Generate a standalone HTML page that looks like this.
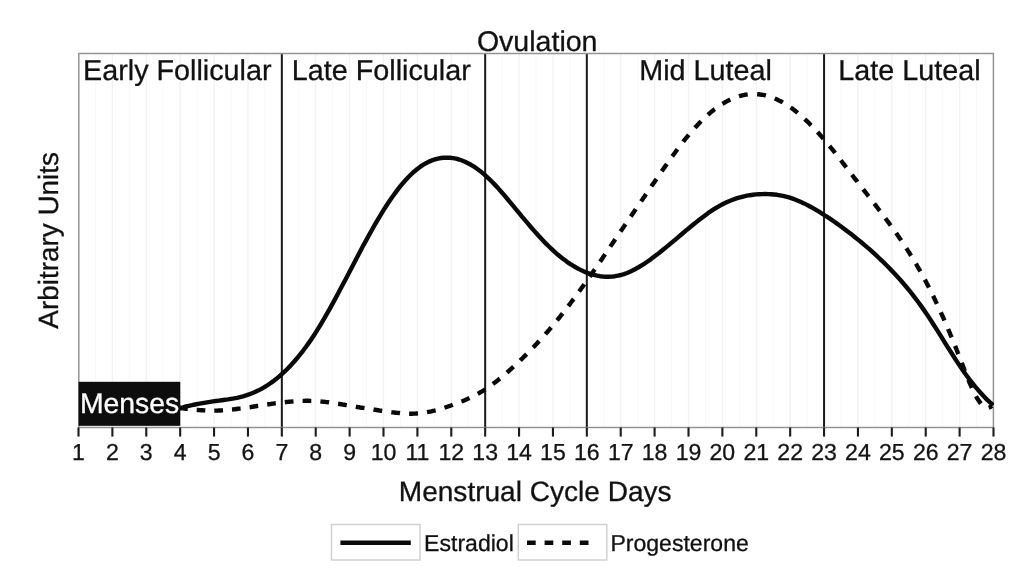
<!DOCTYPE html>
<html lang="en">
<head>
<meta charset="utf-8">
<title>Menstrual Cycle Hormones</title>
<style>
html,body{margin:0;padding:0;background:#fff;}
body{width:1024px;height:583px;overflow:hidden;}
svg{display:block;}
text{font-family:"Liberation Sans",sans-serif;fill:#111;stroke:#111;stroke-width:0.3px;text-rendering:geometricPrecision;}
.ph{font-size:28.75px;}
.tk text{font-size:23.1px;fill:#151515;}
.lg{font-size:23.05px;}
</style>
</head>
<body>
<svg width="1024" height="583" viewBox="0 0 1024 583">
<rect x="0" y="0" width="1024" height="583" fill="#fff"/>
<g>
<line x1="95.44" y1="53.5" x2="95.44" y2="427.5" stroke="#f8f8f8" stroke-width="1"/>
<line x1="112.39" y1="53.5" x2="112.39" y2="427.5" stroke="#f2f2f2" stroke-width="1.4"/>
<line x1="129.33" y1="53.5" x2="129.33" y2="427.5" stroke="#f8f8f8" stroke-width="1"/>
<line x1="146.28" y1="53.5" x2="146.28" y2="427.5" stroke="#f2f2f2" stroke-width="1.4"/>
<line x1="163.22" y1="53.5" x2="163.22" y2="427.5" stroke="#f8f8f8" stroke-width="1"/>
<line x1="180.17" y1="53.5" x2="180.17" y2="427.5" stroke="#f2f2f2" stroke-width="1.4"/>
<line x1="197.11" y1="53.5" x2="197.11" y2="427.5" stroke="#f8f8f8" stroke-width="1"/>
<line x1="214.06" y1="53.5" x2="214.06" y2="427.5" stroke="#f2f2f2" stroke-width="1.4"/>
<line x1="231.00" y1="53.5" x2="231.00" y2="427.5" stroke="#f8f8f8" stroke-width="1"/>
<line x1="247.94" y1="53.5" x2="247.94" y2="427.5" stroke="#f2f2f2" stroke-width="1.4"/>
<line x1="264.89" y1="53.5" x2="264.89" y2="427.5" stroke="#f8f8f8" stroke-width="1"/>
<line x1="281.83" y1="53.5" x2="281.83" y2="427.5" stroke="#f2f2f2" stroke-width="1.4"/>
<line x1="298.78" y1="53.5" x2="298.78" y2="427.5" stroke="#f8f8f8" stroke-width="1"/>
<line x1="315.72" y1="53.5" x2="315.72" y2="427.5" stroke="#f2f2f2" stroke-width="1.4"/>
<line x1="332.67" y1="53.5" x2="332.67" y2="427.5" stroke="#f8f8f8" stroke-width="1"/>
<line x1="349.61" y1="53.5" x2="349.61" y2="427.5" stroke="#f2f2f2" stroke-width="1.4"/>
<line x1="366.56" y1="53.5" x2="366.56" y2="427.5" stroke="#f8f8f8" stroke-width="1"/>
<line x1="383.50" y1="53.5" x2="383.50" y2="427.5" stroke="#f2f2f2" stroke-width="1.4"/>
<line x1="400.44" y1="53.5" x2="400.44" y2="427.5" stroke="#f8f8f8" stroke-width="1"/>
<line x1="417.39" y1="53.5" x2="417.39" y2="427.5" stroke="#f2f2f2" stroke-width="1.4"/>
<line x1="434.33" y1="53.5" x2="434.33" y2="427.5" stroke="#f8f8f8" stroke-width="1"/>
<line x1="451.28" y1="53.5" x2="451.28" y2="427.5" stroke="#f2f2f2" stroke-width="1.4"/>
<line x1="468.22" y1="53.5" x2="468.22" y2="427.5" stroke="#f8f8f8" stroke-width="1"/>
<line x1="485.17" y1="53.5" x2="485.17" y2="427.5" stroke="#f2f2f2" stroke-width="1.4"/>
<line x1="502.11" y1="53.5" x2="502.11" y2="427.5" stroke="#f8f8f8" stroke-width="1"/>
<line x1="519.06" y1="53.5" x2="519.06" y2="427.5" stroke="#f2f2f2" stroke-width="1.4"/>
<line x1="536.00" y1="53.5" x2="536.00" y2="427.5" stroke="#f8f8f8" stroke-width="1"/>
<line x1="552.94" y1="53.5" x2="552.94" y2="427.5" stroke="#f2f2f2" stroke-width="1.4"/>
<line x1="569.89" y1="53.5" x2="569.89" y2="427.5" stroke="#f8f8f8" stroke-width="1"/>
<line x1="586.83" y1="53.5" x2="586.83" y2="427.5" stroke="#f2f2f2" stroke-width="1.4"/>
<line x1="603.78" y1="53.5" x2="603.78" y2="427.5" stroke="#f8f8f8" stroke-width="1"/>
<line x1="620.72" y1="53.5" x2="620.72" y2="427.5" stroke="#f2f2f2" stroke-width="1.4"/>
<line x1="637.67" y1="53.5" x2="637.67" y2="427.5" stroke="#f8f8f8" stroke-width="1"/>
<line x1="654.61" y1="53.5" x2="654.61" y2="427.5" stroke="#f2f2f2" stroke-width="1.4"/>
<line x1="671.56" y1="53.5" x2="671.56" y2="427.5" stroke="#f8f8f8" stroke-width="1"/>
<line x1="688.50" y1="53.5" x2="688.50" y2="427.5" stroke="#f2f2f2" stroke-width="1.4"/>
<line x1="705.44" y1="53.5" x2="705.44" y2="427.5" stroke="#f8f8f8" stroke-width="1"/>
<line x1="722.39" y1="53.5" x2="722.39" y2="427.5" stroke="#f2f2f2" stroke-width="1.4"/>
<line x1="739.33" y1="53.5" x2="739.33" y2="427.5" stroke="#f8f8f8" stroke-width="1"/>
<line x1="756.28" y1="53.5" x2="756.28" y2="427.5" stroke="#f2f2f2" stroke-width="1.4"/>
<line x1="773.22" y1="53.5" x2="773.22" y2="427.5" stroke="#f8f8f8" stroke-width="1"/>
<line x1="790.17" y1="53.5" x2="790.17" y2="427.5" stroke="#f2f2f2" stroke-width="1.4"/>
<line x1="807.11" y1="53.5" x2="807.11" y2="427.5" stroke="#f8f8f8" stroke-width="1"/>
<line x1="824.06" y1="53.5" x2="824.06" y2="427.5" stroke="#f2f2f2" stroke-width="1.4"/>
<line x1="841.00" y1="53.5" x2="841.00" y2="427.5" stroke="#f8f8f8" stroke-width="1"/>
<line x1="857.94" y1="53.5" x2="857.94" y2="427.5" stroke="#f2f2f2" stroke-width="1.4"/>
<line x1="874.89" y1="53.5" x2="874.89" y2="427.5" stroke="#f8f8f8" stroke-width="1"/>
<line x1="891.83" y1="53.5" x2="891.83" y2="427.5" stroke="#f2f2f2" stroke-width="1.4"/>
<line x1="908.78" y1="53.5" x2="908.78" y2="427.5" stroke="#f8f8f8" stroke-width="1"/>
<line x1="925.72" y1="53.5" x2="925.72" y2="427.5" stroke="#f2f2f2" stroke-width="1.4"/>
<line x1="942.67" y1="53.5" x2="942.67" y2="427.5" stroke="#f8f8f8" stroke-width="1"/>
<line x1="959.61" y1="53.5" x2="959.61" y2="427.5" stroke="#f2f2f2" stroke-width="1.4"/>
<line x1="976.56" y1="53.5" x2="976.56" y2="427.5" stroke="#f8f8f8" stroke-width="1"/>
</g>
<g>
<line x1="281.83" y1="53.5" x2="281.83" y2="427.5" stroke="#1a1a1a" stroke-width="2"/>
<line x1="485.17" y1="53.5" x2="485.17" y2="427.5" stroke="#1a1a1a" stroke-width="2"/>
<line x1="586.83" y1="53.5" x2="586.83" y2="427.5" stroke="#1a1a1a" stroke-width="2"/>
<line x1="824.06" y1="53.5" x2="824.06" y2="427.5" stroke="#1a1a1a" stroke-width="2"/>
</g>
<rect x="78.8" y="53.5" width="914.6" height="374.0" fill="none" stroke="#949494" stroke-width="1.5"/>
<rect x="78.6" y="381.8" width="101.67" height="44.05" fill="#0d0d0d"/>
<clipPath id="panel"><rect x="78.5" y="53.5" width="915.5" height="374.0"/></clipPath>
<g clip-path="url(#panel)" fill="none" stroke="#0a0a0a" stroke-width="4.4" stroke-linejoin="round">
<path d="M180.0,408.0 L181.5,408.2 L183.0,408.4 L184.5,408.6 L186.0,408.7 L187.4,408.9 L187.7,408.9 M196.7,409.9 L198.2,410.0 L199.6,410.1 L201.1,410.2 L202.6,410.3 L204.1,410.4 L205.3,410.5 M214.3,410.6 L215.8,410.6 L217.3,410.6 L218.8,410.5 L220.3,410.5 L221.8,410.4 L223.0,410.3 M232.0,409.5 L233.5,409.4 L235.0,409.2 L236.5,409.0 L238.0,408.8 L239.4,408.6 L240.6,408.5 M249.6,407.2 L251.1,407.0 L252.6,406.7 L254.0,406.5 L255.5,406.3 L257.0,406.0 L258.2,405.9 M267.2,404.5 L268.6,404.3 L270.1,404.1 L271.6,403.8 L273.1,403.6 L274.6,403.4 L275.8,403.3 M284.8,402.2 L286.3,402.0 L287.8,401.9 L289.3,401.7 L290.8,401.6 L292.3,401.5 L293.5,401.4 M302.6,400.9 L304.1,400.9 L305.6,400.8 L307.1,400.8 L308.6,400.8 L310.1,400.9 L311.3,400.9 M320.4,401.4 L321.9,401.6 L323.4,401.7 L324.9,401.9 L326.4,402.1 L327.9,402.2 L329.1,402.4 M338.1,403.8 L339.6,404.0 L341.1,404.2 L342.6,404.5 L344.1,404.7 L345.5,405.0 L346.8,405.2 M355.8,406.7 L357.3,407.0 L358.8,407.2 L360.2,407.5 L361.7,407.7 L363.2,407.9 L364.5,408.1 M373.5,409.5 L375.0,409.8 L376.5,410.0 L377.9,410.2 L379.4,410.5 L380.9,410.7 L382.2,410.9 M391.3,412.2 L392.7,412.4 L394.2,412.5 L395.7,412.7 L397.2,412.9 L398.7,413.0 L400.0,413.2 M409.1,413.7 L410.6,413.7 L412.1,413.7 L413.6,413.6 L415.1,413.6 L416.6,413.5 L418.0,413.4 M427.0,412.2 L428.5,411.9 L430.0,411.6 L431.5,411.3 L432.9,410.9 L434.4,410.6 L435.7,410.3 M444.5,407.7 L445.9,407.2 L447.3,406.7 L448.7,406.2 L450.2,405.8 L451.6,405.3 L452.8,404.8 M461.4,401.5 L462.8,401.0 L464.2,400.4 L465.6,399.8 L466.9,399.2 L468.3,398.6 L469.5,398.0 M477.7,393.8 L479.0,393.1 L480.3,392.3 L481.6,391.6 L482.9,390.8 L484.2,390.0 L485.3,389.3 M492.9,384.0 L494.1,383.1 L495.3,382.2 L496.5,381.3 L497.7,380.4 L498.8,379.4 L499.9,378.6 M507.0,372.6 L508.1,371.6 L509.2,370.6 L510.3,369.6 L511.4,368.6 L512.5,367.6 L513.5,366.7 M520.3,360.4 L521.3,359.3 L522.4,358.3 L523.5,357.2 L524.6,356.2 L525.6,355.1 L526.6,354.1 M533.1,347.5 L534.1,346.5 L535.1,345.4 L536.2,344.3 L537.2,343.2 L538.2,342.1 L539.2,341.1 M545.4,334.2 L546.3,333.1 L547.3,332.0 L548.3,330.8 L549.3,329.7 L550.3,328.5 L551.2,327.5 M557.1,320.4 L558.0,319.2 L559.0,318.0 L559.9,316.9 L560.8,315.7 L561.8,314.5 L562.6,313.4 M568.3,306.1 L569.2,304.9 L570.1,303.7 L571.0,302.5 L571.9,301.3 L572.8,300.1 L573.7,299.0 M579.1,291.5 L580.0,290.3 L580.9,289.1 L581.8,287.8 L582.7,286.6 L583.5,285.4 L584.3,284.2 M589.7,276.7 L590.6,275.4 L591.4,274.2 L592.3,273.0 L593.1,271.7 L594.0,270.5 L594.8,269.4 M600.1,261.7 L600.9,260.5 L601.8,259.2 L602.6,258.0 L603.4,256.7 L604.3,255.5 L605.1,254.3 M610.3,246.6 L611.1,245.4 L612.0,244.2 L612.8,242.9 L613.7,241.7 L614.5,240.4 L615.3,239.3 M620.5,231.6 L621.4,230.3 L622.2,229.1 L623.1,227.8 L623.9,226.6 L624.7,225.4 L625.6,224.2 M630.8,216.5 L631.6,215.3 L632.5,214.0 L633.3,212.8 L634.2,211.5 L635.0,210.3 L635.8,209.1 M641.1,201.4 L641.9,200.2 L642.8,199.0 L643.6,197.7 L644.5,196.5 L645.3,195.2 L646.1,194.1 M651.4,186.4 L652.2,185.1 L653.1,183.9 L653.9,182.7 L654.8,181.4 L655.6,180.2 L656.5,179.0 M661.7,171.3 L662.6,170.1 L663.4,168.9 L664.3,167.6 L665.2,166.4 L666.0,165.2 L666.9,164.0 M672.2,156.4 L673.1,155.2 L674.0,154.0 L674.9,152.8 L675.8,151.5 L676.7,150.3 L677.5,149.2 M683.2,141.8 L684.1,140.6 L685.0,139.4 L686.0,138.2 L686.9,137.1 L687.9,135.9 L688.8,134.8 M694.9,127.8 L695.9,126.7 L697.0,125.6 L698.0,124.5 L699.0,123.4 L700.1,122.3 L701.1,121.3 M707.9,114.9 L709.0,113.9 L710.1,112.9 L711.3,111.9 L712.4,111.0 L713.6,110.0 L714.8,109.2 M722.4,103.8 L723.7,103.1 L725.0,102.3 L726.3,101.6 L727.6,100.9 L729.0,100.2 L730.3,99.6 M739.0,96.2 L740.4,95.8 L741.9,95.5 L743.3,95.1 L744.8,94.8 L746.3,94.6 L747.7,94.4 M757.1,94.2 L758.5,94.3 L760.0,94.5 L761.5,94.7 L763.0,94.9 L764.5,95.2 L765.9,95.6 M774.7,98.5 L776.1,99.1 L777.5,99.7 L778.8,100.4 L780.2,101.0 L781.5,101.7 L782.8,102.5 M790.6,107.5 L791.9,108.3 L793.1,109.2 L794.3,110.1 L795.4,111.1 L796.6,112.0 L797.7,112.9 M804.7,119.1 L805.8,120.1 L806.9,121.1 L808.0,122.2 L809.1,123.2 L810.1,124.3 L811.2,125.3 M817.6,132.1 L818.6,133.2 L819.6,134.3 L820.6,135.5 L821.6,136.6 L822.5,137.7 L823.5,138.8 M829.5,146.0 L830.4,147.1 L831.4,148.3 L832.3,149.5 L833.3,150.6 L834.2,151.8 L835.1,153.0 M840.9,160.3 L841.8,161.5 L842.7,162.7 L843.6,163.9 L844.5,165.0 L845.4,166.2 L846.3,167.4 M852.0,174.8 L852.9,176.0 L853.8,177.2 L854.7,178.4 L855.6,179.6 L856.6,180.7 L857.4,181.9 M863.1,189.3 L864.1,190.5 L865.0,191.6 L865.9,192.8 L866.8,194.0 L867.7,195.2 L868.6,196.3 M874.3,203.7 L875.3,204.9 L876.2,206.1 L877.1,207.3 L878.0,208.5 L878.9,209.7 L879.8,210.8 M885.4,218.3 L886.3,219.5 L887.2,220.7 L888.1,221.9 L889.0,223.1 L889.8,224.3 L890.7,225.5 M896.1,233.0 L897.0,234.3 L897.8,235.5 L898.7,236.7 L899.5,238.0 L900.4,239.2 L901.2,240.4 M906.3,248.2 L907.1,249.4 L907.9,250.7 L908.8,252.0 L909.6,253.2 L910.3,254.5 L911.1,255.7 M915.9,263.7 L916.7,265.0 L917.4,266.3 L918.2,267.6 L918.9,268.9 L919.7,270.2 L920.4,271.4 M924.8,279.6 L925.5,280.9 L926.2,282.2 L926.9,283.6 L927.6,284.9 L928.3,286.2 L929.0,287.5 M933.1,295.8 L933.8,297.2 L934.4,298.5 L935.1,299.9 L935.7,301.3 L936.3,302.6 L936.9,303.9 M940.8,312.3 L941.4,313.7 L942.1,315.1 L942.7,316.5 L943.3,317.8 L943.9,319.2 L944.4,320.5 M948.1,329.0 L948.7,330.4 L949.3,331.8 L949.9,333.2 L950.4,334.6 L951.0,335.9 L951.6,337.3 M955.1,345.9 L955.6,347.2 L956.2,348.6 L956.7,350.0 L957.3,351.4 L957.8,352.8 L958.3,354.1 M961.7,362.8 L962.2,364.2 L962.8,365.6 L963.3,367.0 L963.9,368.4 L964.4,369.8 L964.9,371.1 M968.4,379.7 L968.9,381.1 L969.5,382.5 L970.1,383.8 L970.7,385.2 L971.3,386.6 L971.9,387.9 M976.0,396.2 L976.7,397.5 L977.5,398.8 L978.3,400.0 L979.2,401.3 L980.0,402.5 L980.9,403.6 M988.7,407.7 L990.1,407.2 L991.4,406.3 L991.9,405.9"/>
<path d="M180.0,408.0 L183.0,407.3 L186.0,406.5 L189.0,405.8 L192.0,405.2 L195.0,404.5 L198.0,403.9 L201.0,403.4 L204.0,402.9 L207.0,402.4 L210.0,401.9 L213.0,401.4 L216.0,401.0 L219.0,400.6 L222.0,400.2 L225.0,399.8 L228.0,399.4 L231.0,398.9 L234.0,398.4 L237.0,397.8 L240.0,397.1 L243.0,396.3 L246.0,395.4 L249.0,394.4 L252.0,393.3 L255.0,392.0 L258.0,390.6 L261.0,389.1 L264.0,387.4 L267.0,385.5 L270.0,383.5 L273.0,381.4 L276.0,379.1 L279.0,376.6 L282.0,374.0 L285.0,371.2 L288.0,368.2 L291.0,365.1 L294.0,361.8 L297.0,358.3 L300.0,354.6 L303.0,350.8 L306.0,346.8 L309.0,342.6 L312.0,338.2 L315.0,333.7 L318.0,328.9 L321.0,324.0 L324.0,318.9 L327.0,313.7 L330.0,308.4 L333.0,302.9 L336.0,297.4 L339.0,291.8 L342.0,286.1 L345.0,280.4 L348.0,274.7 L351.0,268.9 L354.0,263.2 L357.0,257.4 L360.0,251.8 L363.0,246.1 L366.0,240.6 L369.0,235.1 L372.0,229.7 L375.0,224.4 L378.0,219.3 L381.0,214.3 L384.0,209.4 L387.0,204.8 L390.0,200.3 L393.0,196.0 L396.0,191.9 L399.0,187.9 L402.0,184.2 L405.0,180.8 L408.0,177.5 L411.0,174.5 L414.0,171.7 L417.0,169.2 L420.0,166.9 L423.0,164.9 L426.0,163.2 L429.0,161.6 L432.0,160.4 L435.0,159.4 L438.0,158.6 L441.0,158.0 L444.0,157.7 L447.0,157.6 L450.0,157.8 L453.0,158.1 L456.0,158.7 L459.0,159.5 L462.0,160.5 L465.0,161.7 L468.0,163.2 L471.0,164.8 L474.0,166.6 L477.0,168.7 L480.0,170.9 L483.0,173.4 L486.0,176.0 L489.0,178.8 L492.0,181.8 L495.0,184.9 L498.0,188.1 L501.0,191.5 L504.0,194.9 L507.0,198.5 L510.0,202.1 L513.0,205.7 L516.0,209.3 L519.0,212.9 L522.0,216.6 L525.0,220.1 L528.0,223.7 L531.0,227.2 L534.0,230.6 L537.0,234.0 L540.0,237.3 L543.0,240.5 L546.0,243.6 L549.0,246.5 L552.0,249.4 L555.0,252.2 L558.0,254.8 L561.0,257.2 L564.0,259.6 L567.0,261.8 L570.0,263.8 L573.0,265.7 L576.0,267.5 L579.0,269.1 L582.0,270.6 L585.0,271.9 L588.0,273.1 L591.0,274.1 L594.0,274.9 L597.0,275.6 L600.0,276.2 L603.0,276.5 L606.0,276.7 L609.0,276.7 L612.0,276.6 L615.0,276.2 L618.0,275.7 L621.0,275.0 L624.0,274.1 L627.0,273.0 L630.0,271.7 L633.0,270.3 L636.0,268.7 L639.0,267.0 L642.0,265.2 L645.0,263.3 L648.0,261.2 L651.0,259.1 L654.0,256.8 L657.0,254.6 L660.0,252.2 L663.0,249.8 L666.0,247.4 L669.0,244.9 L672.0,242.4 L675.0,239.9 L678.0,237.3 L681.0,234.8 L684.0,232.3 L687.0,229.7 L690.0,227.3 L693.0,224.8 L696.0,222.4 L699.0,220.0 L702.0,217.7 L705.0,215.4 L708.0,213.2 L711.0,211.2 L714.0,209.2 L717.0,207.3 L720.0,205.6 L723.0,204.0 L726.0,202.5 L729.0,201.2 L732.0,200.0 L735.0,198.9 L738.0,197.9 L741.0,197.1 L744.0,196.3 L747.0,195.7 L750.0,195.2 L753.0,194.8 L756.0,194.4 L759.0,194.2 L762.0,194.1 L765.0,194.0 L768.0,194.1 L771.0,194.2 L774.0,194.5 L777.0,194.8 L780.0,195.3 L783.0,195.9 L786.0,196.6 L789.0,197.4 L792.0,198.4 L795.0,199.5 L798.0,200.7 L801.0,202.0 L804.0,203.4 L807.0,204.9 L810.0,206.5 L813.0,208.1 L816.0,209.9 L819.0,211.7 L822.0,213.6 L825.0,215.5 L828.0,217.4 L831.0,219.4 L834.0,221.5 L837.0,223.6 L840.0,225.7 L843.0,227.9 L846.0,230.2 L849.0,232.5 L852.0,234.8 L855.0,237.2 L858.0,239.6 L861.0,242.0 L864.0,244.6 L867.0,247.1 L870.0,249.7 L873.0,252.4 L876.0,255.2 L879.0,258.0 L882.0,260.8 L885.0,263.8 L888.0,266.8 L891.0,269.9 L894.0,273.0 L897.0,276.3 L900.0,279.6 L903.0,283.0 L906.0,286.5 L909.0,290.2 L912.0,293.9 L915.0,297.8 L918.0,301.8 L921.0,305.9 L924.0,310.1 L927.0,314.5 L930.0,319.0 L933.0,323.7 L936.0,328.4 L939.0,333.1 L942.0,337.9 L945.0,342.8 L948.0,347.6 L951.0,352.3 L954.0,357.0 L957.0,361.6 L960.0,366.1 L963.0,370.4 L966.0,374.7 L969.0,378.7 L972.0,382.6 L975.0,386.4 L978.0,389.9 L981.0,393.3 L984.0,396.5 L987.0,399.6 L990.0,402.4 L993.0,405.0 L993.2,405.2"/>
</g>
<g>
<line x1="78.50" y1="427.5" x2="78.50" y2="436.6" stroke="#1c1c1c" stroke-width="2.1"/>
<line x1="112.39" y1="427.5" x2="112.39" y2="436.6" stroke="#1c1c1c" stroke-width="2.1"/>
<line x1="146.28" y1="427.5" x2="146.28" y2="436.6" stroke="#1c1c1c" stroke-width="2.1"/>
<line x1="180.17" y1="427.5" x2="180.17" y2="436.6" stroke="#1c1c1c" stroke-width="2.1"/>
<line x1="214.06" y1="427.5" x2="214.06" y2="436.6" stroke="#1c1c1c" stroke-width="2.1"/>
<line x1="247.94" y1="427.5" x2="247.94" y2="436.6" stroke="#1c1c1c" stroke-width="2.1"/>
<line x1="281.83" y1="427.5" x2="281.83" y2="436.6" stroke="#1c1c1c" stroke-width="2.1"/>
<line x1="315.72" y1="427.5" x2="315.72" y2="436.6" stroke="#1c1c1c" stroke-width="2.1"/>
<line x1="349.61" y1="427.5" x2="349.61" y2="436.6" stroke="#1c1c1c" stroke-width="2.1"/>
<line x1="383.50" y1="427.5" x2="383.50" y2="436.6" stroke="#1c1c1c" stroke-width="2.1"/>
<line x1="417.39" y1="427.5" x2="417.39" y2="436.6" stroke="#1c1c1c" stroke-width="2.1"/>
<line x1="451.28" y1="427.5" x2="451.28" y2="436.6" stroke="#1c1c1c" stroke-width="2.1"/>
<line x1="485.17" y1="427.5" x2="485.17" y2="436.6" stroke="#1c1c1c" stroke-width="2.1"/>
<line x1="519.06" y1="427.5" x2="519.06" y2="436.6" stroke="#1c1c1c" stroke-width="2.1"/>
<line x1="552.94" y1="427.5" x2="552.94" y2="436.6" stroke="#1c1c1c" stroke-width="2.1"/>
<line x1="586.83" y1="427.5" x2="586.83" y2="436.6" stroke="#1c1c1c" stroke-width="2.1"/>
<line x1="620.72" y1="427.5" x2="620.72" y2="436.6" stroke="#1c1c1c" stroke-width="2.1"/>
<line x1="654.61" y1="427.5" x2="654.61" y2="436.6" stroke="#1c1c1c" stroke-width="2.1"/>
<line x1="688.50" y1="427.5" x2="688.50" y2="436.6" stroke="#1c1c1c" stroke-width="2.1"/>
<line x1="722.39" y1="427.5" x2="722.39" y2="436.6" stroke="#1c1c1c" stroke-width="2.1"/>
<line x1="756.28" y1="427.5" x2="756.28" y2="436.6" stroke="#1c1c1c" stroke-width="2.1"/>
<line x1="790.17" y1="427.5" x2="790.17" y2="436.6" stroke="#1c1c1c" stroke-width="2.1"/>
<line x1="824.06" y1="427.5" x2="824.06" y2="436.6" stroke="#1c1c1c" stroke-width="2.1"/>
<line x1="857.94" y1="427.5" x2="857.94" y2="436.6" stroke="#1c1c1c" stroke-width="2.1"/>
<line x1="891.83" y1="427.5" x2="891.83" y2="436.6" stroke="#1c1c1c" stroke-width="2.1"/>
<line x1="925.72" y1="427.5" x2="925.72" y2="436.6" stroke="#1c1c1c" stroke-width="2.1"/>
<line x1="959.61" y1="427.5" x2="959.61" y2="436.6" stroke="#1c1c1c" stroke-width="2.1"/>
<line x1="993.50" y1="427.5" x2="993.50" y2="436.6" stroke="#1c1c1c" stroke-width="2.1"/>
</g>
<g class="tk">
<text x="78.50" y="459.7" text-anchor="middle">1</text>
<text x="112.39" y="459.7" text-anchor="middle">2</text>
<text x="146.28" y="459.7" text-anchor="middle">3</text>
<text x="180.17" y="459.7" text-anchor="middle">4</text>
<text x="214.06" y="459.7" text-anchor="middle">5</text>
<text x="247.94" y="459.7" text-anchor="middle">6</text>
<text x="281.83" y="459.7" text-anchor="middle">7</text>
<text x="315.72" y="459.7" text-anchor="middle">8</text>
<text x="349.61" y="459.7" text-anchor="middle">9</text>
<text x="383.50" y="459.7" text-anchor="middle">10</text>
<text x="417.39" y="459.7" text-anchor="middle">11</text>
<text x="451.28" y="459.7" text-anchor="middle">12</text>
<text x="485.17" y="459.7" text-anchor="middle">13</text>
<text x="519.06" y="459.7" text-anchor="middle">14</text>
<text x="552.94" y="459.7" text-anchor="middle">15</text>
<text x="586.83" y="459.7" text-anchor="middle">16</text>
<text x="620.72" y="459.7" text-anchor="middle">17</text>
<text x="654.61" y="459.7" text-anchor="middle">18</text>
<text x="688.50" y="459.7" text-anchor="middle">19</text>
<text x="722.39" y="459.7" text-anchor="middle">20</text>
<text x="756.28" y="459.7" text-anchor="middle">21</text>
<text x="790.17" y="459.7" text-anchor="middle">22</text>
<text x="824.06" y="459.7" text-anchor="middle">23</text>
<text x="857.94" y="459.7" text-anchor="middle">24</text>
<text x="891.83" y="459.7" text-anchor="middle">25</text>
<text x="925.72" y="459.7" text-anchor="middle">26</text>
<text x="959.61" y="459.7" text-anchor="middle">27</text>
<text x="993.50" y="459.7" text-anchor="middle">28</text>
</g>
<g class="ph">
<text x="83" y="80.3">Early Follicular</text>
<text x="291.8" y="80.3">Late Follicular</text>
<text x="476.9" y="51.2" style="font-size:28.55px">Ovulation</text>
<text x="639.2" y="80.3">Mid Luteal</text>
<text x="838.3" y="80.3">Late Luteal</text>
<text x="79.9" y="412.8" style="fill:#fff;stroke:#fff;font-size:28.4px">Menses</text>
</g>
<text x="398.8" y="500.7" style="font-size:28.05px">Menstrual Cycle Days</text>
<text transform="translate(57.7,328.7) rotate(-90)" style="font-size:27.9px">Arbitrary Units</text>
<g>
<rect x="331.5" y="524.5" width="88.5" height="35.5" fill="#fff" stroke="#cfcfcf" stroke-width="1.4"/>
<line x1="340.4" y1="542.7" x2="410.8" y2="542.7" stroke="#0a0a0a" stroke-width="4.4"/>
<text class="lg" x="424.1" y="550.5">Estradiol</text>
<rect x="518.3" y="524.5" width="88.5" height="35.5" fill="#fff" stroke="#cfcfcf" stroke-width="1.4"/>
<line x1="527" y1="542.7" x2="597.4" y2="542.7" stroke="#0a0a0a" stroke-width="4.4" stroke-dasharray="8.7 8.9"/>
<text class="lg" x="610.4" y="550.5">Progesterone</text>
</g>
</svg>
</body>
</html>
